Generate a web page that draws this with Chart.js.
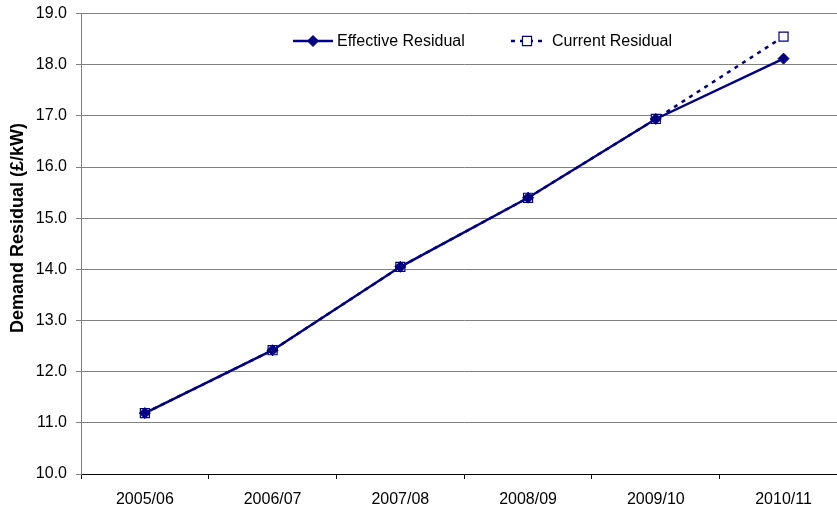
<!DOCTYPE html>
<html>
<head>
<meta charset="utf-8">
<script src="https://cdn.jsdelivr.net/npm/chart.js@4/dist/chart.umd.min.js"></script>
<style>
  html, body { margin: 0; padding: 0; background: #fff; overflow: hidden; }
  #wrap { width: 855px; height: 514px; margin-top: -5px; }
</style>
</head>
<body>
<div id="wrap"><canvas id="c"></canvas></div>
<script>
const categories = ['2005/06', '2006/07', '2007/08', '2008/09', '2009/10', '2010/11'];
const effectiveResidual = [11.19, 12.42, 14.05, 15.40, 16.94, 18.12];
const currentResidual   = [11.19, 12.42, 14.05, 15.40, 16.94, 18.55];
const seriesNames = ['Effective Residual', 'Current Residual'];
const axisTitle = 'Demand Residual (£/kW)';

const NAVY = '#000080';
const FONT = "'Liberation Sans', Arial, sans-serif";
Chart.defaults.font.family = FONT;
Chart.defaults.font.size = 16;
Chart.defaults.color = '#000';

// Legend drawn inside the plot (line sample with marker, then the name),
// plus the vertical value-axis title.
const annotations = {
  id: 'annotations',
  afterDraw(chart) {
    const ctx = chart.ctx;
    const ds = chart.data.datasets;
    const y = 46;
    const items = [
      { ds: 1, x0: 293, x1: 333, tx: 337 },
      { ds: 0, x0: 511, x1: 543, tx: 552 }
    ];
    ctx.save();
    items.forEach(it => {
      const d = ds[it.ds];
      ctx.strokeStyle = d.borderColor;
      ctx.lineWidth = d.borderWidth;
      ctx.setLineDash(d.borderDash || []);
      ctx.beginPath();
      ctx.moveTo(it.x0, y);
      ctx.lineTo(it.x1, y);
      ctx.stroke();
      ctx.setLineDash([]);
      ctx.fillStyle = d.pointBackgroundColor;
      ctx.strokeStyle = d.pointBorderColor;
      ctx.lineWidth = d.pointBorderWidth;
      Chart.helpers.drawPoint(ctx, {
        pointStyle: d.pointStyle,
        radius: d.pointRadius,
        borderWidth: d.pointBorderWidth,
        rotation: 0
      }, (it.x0 + it.x1) / 2, y);
      ctx.fillStyle = '#000';
      ctx.font = '16px ' + FONT;
      ctx.textBaseline = 'middle';
      ctx.textAlign = 'left';
      ctx.fillText(d.label, it.tx, y + 1);
    });

    ctx.translate(18, 233);
    ctx.rotate(-Math.PI / 2);
    ctx.font = 'bold 18px ' + FONT;
    ctx.fillStyle = '#000';
    ctx.textAlign = 'center';
    ctx.textBaseline = 'middle';
    ctx.fillText(axisTitle, 0, 0);
    ctx.restore();
  }
};

new Chart(document.getElementById('c'), {
  type: 'line',
  data: {
    labels: categories,
    datasets: [
      {
        label: seriesNames[1],
        data: currentResidual,
        borderColor: NAVY,
        borderWidth: 2.5,
        borderDash: [4, 5],
        pointStyle: 'rect',
        pointRadius: 6.4,
        pointBorderWidth: 1.2,
        pointBackgroundColor: '#fff',
        pointBorderColor: NAVY,
        tension: 0,
        order: 2
      },
      {
        label: seriesNames[0],
        data: effectiveResidual,
        borderColor: NAVY,
        borderWidth: 2.5,
        pointStyle: 'rectRot',
        pointRadius: 5.5,
        pointBorderWidth: 1,
        pointBackgroundColor: NAVY,
        pointBorderColor: NAVY,
        tension: 0,
        order: 1
      }
    ]
  },
  options: {
    responsive: true,
    maintainAspectRatio: false,
    animation: false,
    layout: { padding: { top: 7, right: 0, left: 0, bottom: 0 } },
    plugins: {
      legend: { display: false },
      tooltip: { enabled: false }
    },
    scales: {
      x: {
        offset: true,
        grid: {
          display: true,
          offset: true,
          drawOnChartArea: false,
          drawTicks: true,
          tickLength: 5,
          color: '#000'
        },
        border: { color: '#000', width: 1 },
        ticks: { padding: 11, color: '#000', maxRotation: 0 },
        afterFit(s) { s.height = 35; }
      },
      y: {
        min: 10,
        max: 19,
        ticks: {
          stepSize: 1,
          padding: 9,
          color: '#000',
          callback: v => Number(v).toFixed(1)
        },
        grid: {
          color: '#808080',
          lineWidth: 1,
          drawTicks: true,
          tickLength: 5
        },
        border: { color: '#808080', width: 1 },
        title: { display: false },
        afterFit(s) { s.width = 81; }
      }
    }
  },
  plugins: [annotations]
});
</script>
</body>
</html>
